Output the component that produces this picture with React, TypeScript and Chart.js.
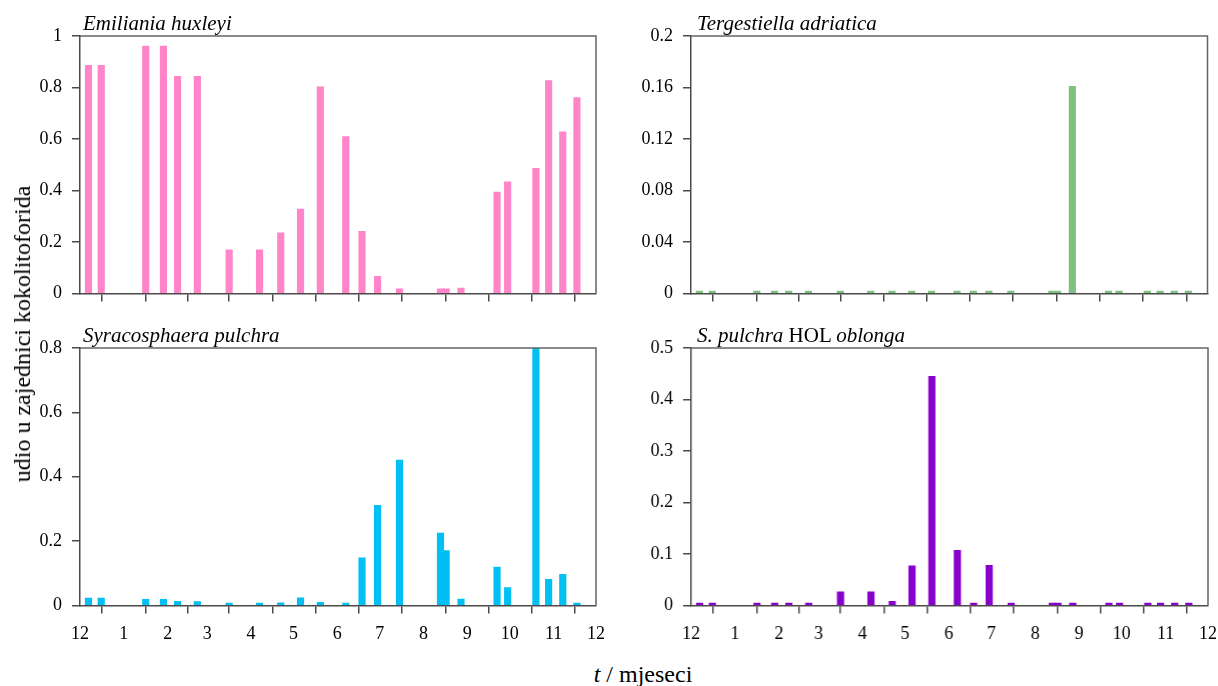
import React, { useEffect, useRef } from 'react';
import { Chart, registerables } from 'chart.js';

Chart.register(...registerables);

// Sampling dates, in days counted from 1 December
const SAMPLE_DAYS = [6, 15, 46.5, 59, 69, 83, 105.5, 127, 142, 156, 170, 188, 199.5, 210.5, 226, 255, 259, 269.5, 295, 302.5, 322.5, 331.5, 341.5, 351.5];

const E_HUXLEYI = [0.886, 0.886, 0.961, 0.961, 0.843, 0.843, 0.17, 0.17, 0.236, 0.328, 0.803, 0.609, 0.241, 0.067, 0.018, 0.018, 0.018, 0.021, 0.394, 0.434, 0.486, 0.827, 0.628, 0.761];
const S_PULCHRA = [0.023, 0.023, 0.019, 0.019, 0.013, 0.012, 0.003, 0.003, 0.008, 0.024, 0.01, 0.003, 0.148, 0.311, 0.452, 0.225, 0.171, 0.02, 0.119, 0.056, 0.83, 0.081, 0.097, 0.007];
const T_ADRIATICA = [0, 0, 0, 0, 0, 0, 0, 0, 0, 0, 0, 0, 0, 0, 0, 0, 0, 0.161, 0, 0, 0, 0, 0, 0];
const HOL_OBLONGA = [0, 0, 0, 0, 0, 0, 0.0265, 0.0265, 0.008, 0.077, 0.445, 0.107, 0, 0.078, 0, 0, 0, 0, 0, 0, 0, 0, 0, 0];

// Month boundaries (days from 1 December) and their labels
const MONTH_TICKS = [0, 31, 62, 90, 121, 151, 182, 212, 243, 274, 304, 335, 365];
const MONTH_LABELS = ['12', '1', '2', '3', '4', '5', '6', '7', '8', '9', '10', '11', '12'];

const Y_TICKS_EHUX = [0, 0.2, 0.4, 0.6, 0.8, 1];
const Y_LABELS_EHUX = ['0', '0.2', '0.4', '0.6', '0.8', '1'];
const Y_TICKS_SPUL = [0, 0.2, 0.4, 0.6, 0.8];
const Y_LABELS_SPUL = ['0', '0.2', '0.4', '0.6', '0.8'];
const Y_TICKS_TADR = [0, 0.04, 0.08, 0.12, 0.16, 0.2];
const Y_LABELS_TADR = ['0', '0.04', '0.08', '0.12', '0.16', '0.2'];
const Y_TICKS_HOL = [0, 0.1, 0.2, 0.3, 0.4, 0.5];
const Y_LABELS_HOL = ['0', '0.1', '0.2', '0.3', '0.4', '0.5'];

const FONT = "'Liberation Serif', 'DejaVu Serif', serif";
const AXIS_COLOR = '#4a4a4a';

const framePlugin = {
  id: 'frame',
  afterDatasetsDraw(chart: any) {
    const { ctx, chartArea } = chart;
    const { left, right, top, bottom } = chartArea;
    ctx.save();
    ctx.strokeStyle = '#666';
    ctx.lineWidth = 1.5;
    ctx.beginPath();
    ctx.moveTo(left, top);
    ctx.lineTo(right, top);
    ctx.lineTo(right, bottom);
    ctx.stroke();
    ctx.restore();
  },
};

type PanelProps = {
  left: number;
  top: number;
  width: number;
  height: number;
  yAxisWidth: number;
  padTop: number;
  padRight: number;
  xAxisHeight: number;
  showXLabels: boolean;
  values: number[];
  color: string;
  yMax: number;
  yTicks: number[];
  yLabels: string[];
};

function Panel(p: PanelProps) {
  const ref = useRef<HTMLCanvasElement | null>(null);
  useEffect(() => {
    if (!ref.current) return;
    const grid = {
      drawOnChartArea: false,
      drawTicks: true,
      tickLength: 8,
      color: AXIS_COLOR,
      lineWidth: 1.5,
    };
    const border = { display: true, color: AXIS_COLOR, width: 1.5 };
    const chart = new Chart(ref.current, {
      type: 'bar',
      data: {
        datasets: [
          {
            data: SAMPLE_DAYS.map((d, i) => ({ x: d, y: p.values[i] })),
            backgroundColor: p.color,
            borderWidth: 0,
            barThickness: 6.5,
            minBarLength: 2.5,
          } as any,
        ],
      },
      options: {
        responsive: false,
        animation: false,
        layout: { padding: { top: p.padTop, right: p.padRight, left: 0, bottom: 0 } },
        plugins: { legend: { display: false }, tooltip: { enabled: false } },
        scales: {
          x: {
            type: 'linear',
            min: 0,
            max: 365,
            offset: false,
            afterBuildTicks: (s: any) => {
              s.ticks = MONTH_TICKS.map((v) => ({ value: v }));
            },
            afterFit: (s: any) => {
              s.height = p.xAxisHeight;
            },
            ticks: {
              autoSkip: false,
              maxRotation: 0,
              padding: 10,
              color: '#000',
              font: { family: FONT, size: 18 },
              callback: (_v: any, i: number) => (p.showXLabels ? MONTH_LABELS[i] : ''),
            },
            grid,
            border,
          } as any,
          y: {
            type: 'linear',
            min: 0,
            max: p.yMax,
            afterBuildTicks: (s: any) => {
              s.ticks = p.yTicks.map((v) => ({ value: v }));
            },
            afterFit: (s: any) => {
              s.width = p.yAxisWidth;
            },
            ticks: {
              padding: 10,
              color: '#000',
              font: { family: FONT, size: 18 },
              callback: (_v: any, i: number) => p.yLabels[i],
            },
            grid,
            border,
          } as any,
        },
      },
      plugins: [framePlugin],
    });
    return () => chart.destroy();
  }, []);
  return (
    <canvas
      ref={ref}
      width={p.width}
      height={p.height}
      style={{ position: 'absolute', left: p.left, top: p.top, width: p.width, height: p.height }}
    />
  );
}

const titleStyle: React.CSSProperties = {
  position: 'absolute',
  fontFamily: FONT,
  fontSize: 21,
  lineHeight: '21px',
  whiteSpace: 'nowrap',
  color: '#000',
};

export default function App() {
  return (
    <div style={{ position: 'absolute', left: 0, top: 0, width: 1218, height: 686, background: '#fff', overflow: 'hidden' }}>
      <Panel left={0} top={0} width={610} height={320} yAxisWidth={80} padTop={36} padRight={14} xAxisHeight={26.5}
        showXLabels={false} values={E_HUXLEYI} color="#ff85c8" yMax={1} yTicks={Y_TICKS_EHUX} yLabels={Y_LABELS_EHUX} />
      <Panel left={610} top={0} width={608} height={320} yAxisWidth={81} padTop={36} padRight={10.5} xAxisHeight={26.5}
        showXLabels={false} values={T_ADRIATICA} color="#80c080" yMax={0.2} yTicks={Y_TICKS_TADR} yLabels={Y_LABELS_TADR} />
      <Panel left={0} top={320} width={615} height={340} yAxisWidth={80} padTop={28} padRight={0} xAxisHeight={54.5}
        showXLabels={true} values={S_PULCHRA} color="#00bff2" yMax={0.8} yTicks={Y_TICKS_SPUL} yLabels={Y_LABELS_SPUL} />
      <Panel left={610} top={320} width={616.5} height={340} yAxisWidth={81} padTop={28} padRight={0} xAxisHeight={54.5}
        showXLabels={true} values={HOL_OBLONGA} color="#8800cc" yMax={0.5} yTicks={Y_TICKS_HOL} yLabels={Y_LABELS_HOL} />

      <div style={{ ...titleStyle, left: 83, top: 13 }}><i>Emiliania huxleyi</i></div>
      <div style={{ ...titleStyle, left: 697, top: 13 }}><i>Tergestiella adriatica</i></div>
      <div style={{ ...titleStyle, left: 83, top: 325 }}><i>Syracosphaera pulchra</i></div>
      <div style={{ ...titleStyle, left: 697, top: 325 }}><i>S. pulchra</i> HOL <i>oblonga</i></div>

      <div style={{ position: 'absolute', left: 22, top: 334, transform: 'translate(-50%, -50%) rotate(-90deg)', fontFamily: FONT, fontSize: 24, lineHeight: '24px', whiteSpace: 'nowrap', color: '#000' }}>
        udio u zajednici kokolitoforida
      </div>
      <div style={{ position: 'absolute', left: 643, top: 662, transform: 'translateX(-50%)', fontFamily: FONT, fontSize: 24, lineHeight: '24px', whiteSpace: 'nowrap', color: '#000' }}>
        <i>t</i> / mjeseci
      </div>
    </div>
  );
}
